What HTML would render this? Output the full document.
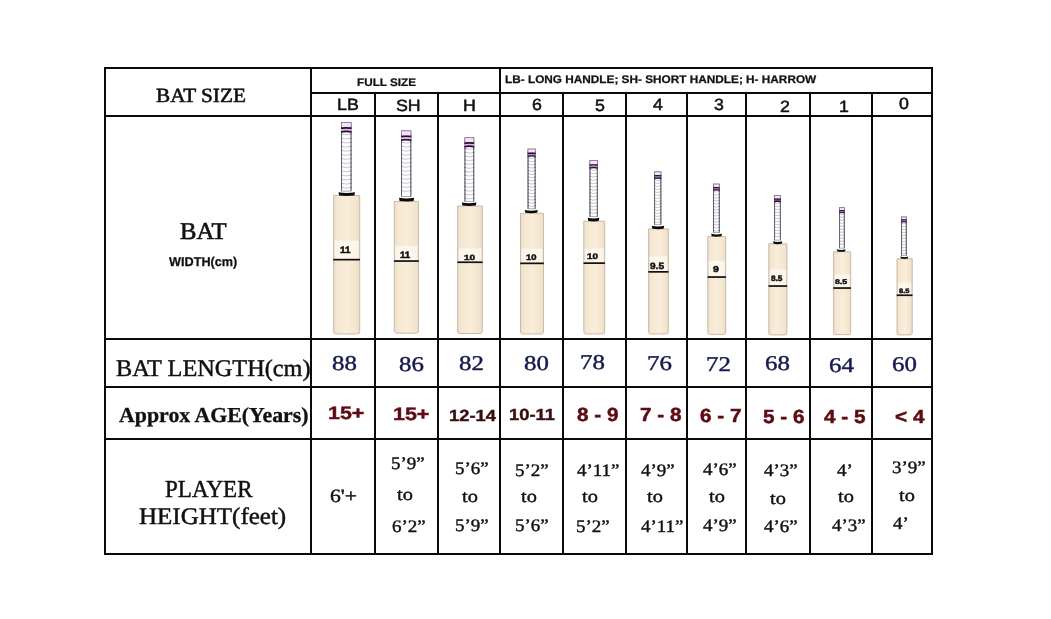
<!DOCTYPE html>
<html><head><meta charset="utf-8"><title>Cricket Bat Size Chart</title>
<style>
html,body{margin:0;padding:0;background:#fff;}
body{width:1051px;height:619px;position:relative;overflow:hidden;}
.t{position:absolute;white-space:nowrap;line-height:1;transform-origin:0 0;margin:0;text-rendering:geometricPrecision;}
.hl,.vl{position:absolute;background:#0a0a0a;}
svg{position:absolute;left:0;top:0;}
</style></head><body>

<svg width="1051" height="619" viewBox="0 0 1051 619">
<defs><linearGradient id="bg" x1="0" x2="1" y1="0" y2="0"><stop offset="0" stop-color="#ebdfca"/><stop offset="0.15" stop-color="#f5e7d0"/><stop offset="0.5" stop-color="#f9eddb"/><stop offset="0.85" stop-color="#f4e5cd"/><stop offset="1" stop-color="#ebdfca"/></linearGradient></defs>
<path d="M333.60,195.50 H359.70 V331.50 Q359.70,334.00 357.20,334.00 H336.10 Q333.60,334.00 333.60,331.50 Z" fill="url(#bg)" stroke="#c3b6a3" stroke-width="0.9"/>
<rect x="334.60" y="240.60" width="24.10" height="18.20" fill="#fffcf5" opacity="0.7"/>
<rect x="333.30" y="258.80" width="26.70" height="1.7" fill="#111"/>
<rect x="341.35" y="122.35" width="9.80" height="68.75" fill="#fdfcfe" stroke="#8e8a96" stroke-width="0.7"/>
<line x1="341.50" y1="126.00" x2="341.50" y2="191.10" stroke="#5a5862" stroke-width="0.9"/>
<line x1="351.00" y1="126.00" x2="351.00" y2="191.10" stroke="#5a5862" stroke-width="0.9"/>
<path d="M341.00,134.10 Q346.25,135.50 351.50,134.10" fill="none" stroke="#b4b1bb" stroke-width="0.7"/>
<rect x="341.00" y="133.60" width="1.2" height="1.0" fill="#55535d"/>
<rect x="350.30" y="133.60" width="1.2" height="1.0" fill="#55535d"/>
<path d="M341.00,138.20 Q346.25,139.60 351.50,138.20" fill="none" stroke="#b4b1bb" stroke-width="0.7"/>
<rect x="341.00" y="137.70" width="1.2" height="1.0" fill="#55535d"/>
<rect x="350.30" y="137.70" width="1.2" height="1.0" fill="#55535d"/>
<path d="M341.00,142.30 Q346.25,143.70 351.50,142.30" fill="none" stroke="#b4b1bb" stroke-width="0.7"/>
<rect x="341.00" y="141.80" width="1.2" height="1.0" fill="#55535d"/>
<rect x="350.30" y="141.80" width="1.2" height="1.0" fill="#55535d"/>
<path d="M341.00,146.40 Q346.25,147.80 351.50,146.40" fill="none" stroke="#b4b1bb" stroke-width="0.7"/>
<rect x="341.00" y="145.90" width="1.2" height="1.0" fill="#55535d"/>
<rect x="350.30" y="145.90" width="1.2" height="1.0" fill="#55535d"/>
<path d="M341.00,150.50 Q346.25,151.90 351.50,150.50" fill="none" stroke="#b4b1bb" stroke-width="0.7"/>
<rect x="341.00" y="150.00" width="1.2" height="1.0" fill="#55535d"/>
<rect x="350.30" y="150.00" width="1.2" height="1.0" fill="#55535d"/>
<path d="M341.00,154.60 Q346.25,156.00 351.50,154.60" fill="none" stroke="#b4b1bb" stroke-width="0.7"/>
<rect x="341.00" y="154.10" width="1.2" height="1.0" fill="#55535d"/>
<rect x="350.30" y="154.10" width="1.2" height="1.0" fill="#55535d"/>
<path d="M341.00,158.70 Q346.25,160.10 351.50,158.70" fill="none" stroke="#b4b1bb" stroke-width="0.7"/>
<rect x="341.00" y="158.20" width="1.2" height="1.0" fill="#55535d"/>
<rect x="350.30" y="158.20" width="1.2" height="1.0" fill="#55535d"/>
<path d="M341.00,162.80 Q346.25,164.20 351.50,162.80" fill="none" stroke="#b4b1bb" stroke-width="0.7"/>
<rect x="341.00" y="162.30" width="1.2" height="1.0" fill="#55535d"/>
<rect x="350.30" y="162.30" width="1.2" height="1.0" fill="#55535d"/>
<path d="M341.00,166.90 Q346.25,168.30 351.50,166.90" fill="none" stroke="#b4b1bb" stroke-width="0.7"/>
<rect x="341.00" y="166.40" width="1.2" height="1.0" fill="#55535d"/>
<rect x="350.30" y="166.40" width="1.2" height="1.0" fill="#55535d"/>
<path d="M341.00,171.00 Q346.25,172.40 351.50,171.00" fill="none" stroke="#b4b1bb" stroke-width="0.7"/>
<rect x="341.00" y="170.50" width="1.2" height="1.0" fill="#55535d"/>
<rect x="350.30" y="170.50" width="1.2" height="1.0" fill="#55535d"/>
<path d="M341.00,175.10 Q346.25,176.50 351.50,175.10" fill="none" stroke="#b4b1bb" stroke-width="0.7"/>
<rect x="341.00" y="174.60" width="1.2" height="1.0" fill="#55535d"/>
<rect x="350.30" y="174.60" width="1.2" height="1.0" fill="#55535d"/>
<path d="M341.00,179.20 Q346.25,180.60 351.50,179.20" fill="none" stroke="#b4b1bb" stroke-width="0.7"/>
<rect x="341.00" y="178.70" width="1.2" height="1.0" fill="#55535d"/>
<rect x="350.30" y="178.70" width="1.2" height="1.0" fill="#55535d"/>
<path d="M341.00,183.30 Q346.25,184.70 351.50,183.30" fill="none" stroke="#b4b1bb" stroke-width="0.7"/>
<rect x="341.00" y="182.80" width="1.2" height="1.0" fill="#55535d"/>
<rect x="350.30" y="182.80" width="1.2" height="1.0" fill="#55535d"/>
<path d="M341.00,187.40 Q346.25,188.80 351.50,187.40" fill="none" stroke="#b4b1bb" stroke-width="0.7"/>
<rect x="341.00" y="186.90" width="1.2" height="1.0" fill="#55535d"/>
<rect x="350.30" y="186.90" width="1.2" height="1.0" fill="#55535d"/>
<rect x="341.40" y="122.40" width="9.70" height="4.80" fill="#f1e4f4"/>
<rect x="341.35" y="122.35" width="9.80" height="5.25" fill="none" stroke="#7a6a82" stroke-width="0.7"/>
<path d="M341.00,127.40 Q346.25,126.60 351.50,127.40 V129.30 Q346.25,128.30 341.00,129.30 Z" fill="#2c0a34"/>
<rect x="341.00" y="129.10" width="10.50" height="2.00" fill="#d9b8e3"/>
<path d="M341.00,131.00 Q346.25,130.20 351.50,131.00 V132.80 Q346.25,131.80 341.00,132.80 Z" fill="#2c0a34"/>
<path d="M338.50,192.20 Q346.75,193.70 355.00,192.20 L354.40,195.50 Q346.75,196.40 339.10,195.50 Z" fill="#0a0a0a"/>
<path d="M394.30,201.50 H418.50 V330.74 Q418.50,333.20 416.04,333.20 H396.76 Q394.30,333.20 394.30,330.74 Z" fill="url(#bg)" stroke="#c3b6a3" stroke-width="0.9"/>
<rect x="395.30" y="245.70" width="22.20" height="14.50" fill="#fffcf5" opacity="0.7"/>
<rect x="394.00" y="260.20" width="24.80" height="1.7" fill="#111"/>
<rect x="401.35" y="130.85" width="9.60" height="65.75" fill="#fdfcfe" stroke="#8e8a96" stroke-width="0.7"/>
<line x1="401.50" y1="134.42" x2="401.50" y2="196.60" stroke="#5a5862" stroke-width="0.9"/>
<line x1="410.80" y1="134.42" x2="410.80" y2="196.60" stroke="#5a5862" stroke-width="0.9"/>
<path d="M401.00,142.36 Q406.15,143.76 411.30,142.36" fill="none" stroke="#b4b1bb" stroke-width="0.7"/>
<rect x="401.00" y="141.86" width="1.2" height="1.0" fill="#55535d"/>
<rect x="410.10" y="141.86" width="1.2" height="1.0" fill="#55535d"/>
<path d="M401.00,146.39 Q406.15,147.79 411.30,146.39" fill="none" stroke="#b4b1bb" stroke-width="0.7"/>
<rect x="401.00" y="145.89" width="1.2" height="1.0" fill="#55535d"/>
<rect x="410.10" y="145.89" width="1.2" height="1.0" fill="#55535d"/>
<path d="M401.00,150.42 Q406.15,151.82 411.30,150.42" fill="none" stroke="#b4b1bb" stroke-width="0.7"/>
<rect x="401.00" y="149.92" width="1.2" height="1.0" fill="#55535d"/>
<rect x="410.10" y="149.92" width="1.2" height="1.0" fill="#55535d"/>
<path d="M401.00,154.44 Q406.15,155.84 411.30,154.44" fill="none" stroke="#b4b1bb" stroke-width="0.7"/>
<rect x="401.00" y="153.94" width="1.2" height="1.0" fill="#55535d"/>
<rect x="410.10" y="153.94" width="1.2" height="1.0" fill="#55535d"/>
<path d="M401.00,158.47 Q406.15,159.87 411.30,158.47" fill="none" stroke="#b4b1bb" stroke-width="0.7"/>
<rect x="401.00" y="157.97" width="1.2" height="1.0" fill="#55535d"/>
<rect x="410.10" y="157.97" width="1.2" height="1.0" fill="#55535d"/>
<path d="M401.00,162.50 Q406.15,163.90 411.30,162.50" fill="none" stroke="#b4b1bb" stroke-width="0.7"/>
<rect x="401.00" y="162.00" width="1.2" height="1.0" fill="#55535d"/>
<rect x="410.10" y="162.00" width="1.2" height="1.0" fill="#55535d"/>
<path d="M401.00,166.53 Q406.15,167.93 411.30,166.53" fill="none" stroke="#b4b1bb" stroke-width="0.7"/>
<rect x="401.00" y="166.03" width="1.2" height="1.0" fill="#55535d"/>
<rect x="410.10" y="166.03" width="1.2" height="1.0" fill="#55535d"/>
<path d="M401.00,170.56 Q406.15,171.96 411.30,170.56" fill="none" stroke="#b4b1bb" stroke-width="0.7"/>
<rect x="401.00" y="170.06" width="1.2" height="1.0" fill="#55535d"/>
<rect x="410.10" y="170.06" width="1.2" height="1.0" fill="#55535d"/>
<path d="M401.00,174.58 Q406.15,175.98 411.30,174.58" fill="none" stroke="#b4b1bb" stroke-width="0.7"/>
<rect x="401.00" y="174.08" width="1.2" height="1.0" fill="#55535d"/>
<rect x="410.10" y="174.08" width="1.2" height="1.0" fill="#55535d"/>
<path d="M401.00,178.61 Q406.15,180.01 411.30,178.61" fill="none" stroke="#b4b1bb" stroke-width="0.7"/>
<rect x="401.00" y="178.11" width="1.2" height="1.0" fill="#55535d"/>
<rect x="410.10" y="178.11" width="1.2" height="1.0" fill="#55535d"/>
<path d="M401.00,182.64 Q406.15,184.04 411.30,182.64" fill="none" stroke="#b4b1bb" stroke-width="0.7"/>
<rect x="401.00" y="182.14" width="1.2" height="1.0" fill="#55535d"/>
<rect x="410.10" y="182.14" width="1.2" height="1.0" fill="#55535d"/>
<path d="M401.00,186.67 Q406.15,188.07 411.30,186.67" fill="none" stroke="#b4b1bb" stroke-width="0.7"/>
<rect x="401.00" y="186.17" width="1.2" height="1.0" fill="#55535d"/>
<rect x="410.10" y="186.17" width="1.2" height="1.0" fill="#55535d"/>
<path d="M401.00,190.69 Q406.15,192.09 411.30,190.69" fill="none" stroke="#b4b1bb" stroke-width="0.7"/>
<rect x="401.00" y="190.19" width="1.2" height="1.0" fill="#55535d"/>
<rect x="410.10" y="190.19" width="1.2" height="1.0" fill="#55535d"/>
<rect x="401.40" y="130.90" width="9.50" height="4.70" fill="#f1e4f4"/>
<rect x="401.35" y="130.85" width="9.60" height="5.14" fill="none" stroke="#7a6a82" stroke-width="0.7"/>
<path d="M401.00,135.80 Q406.15,135.01 411.30,135.80 V137.66 Q406.15,136.68 401.00,137.66 Z" fill="#2c0a34"/>
<rect x="401.00" y="137.46" width="10.30" height="1.96" fill="#d9b8e3"/>
<path d="M401.00,139.33 Q406.15,138.54 411.30,139.33 V141.10 Q406.15,140.11 401.00,141.10 Z" fill="#2c0a34"/>
<path d="M399.00,197.70 Q406.60,199.20 414.20,197.70 L413.60,201.00 Q406.60,201.90 399.60,201.00 Z" fill="#0a0a0a"/>
<path d="M457.70,206.00 H482.30 V331.15 Q482.30,333.50 479.95,333.50 H460.05 Q457.70,333.50 457.70,331.15 Z" fill="url(#bg)" stroke="#c3b6a3" stroke-width="0.9"/>
<rect x="458.70" y="248.50" width="22.60" height="12.90" fill="#fffcf5" opacity="0.7"/>
<rect x="457.40" y="261.40" width="25.20" height="1.7" fill="#111"/>
<rect x="464.85" y="137.75" width="9.00" height="63.75" fill="#fdfcfe" stroke="#8e8a96" stroke-width="0.7"/>
<line x1="465.00" y1="141.10" x2="465.00" y2="201.50" stroke="#5a5862" stroke-width="0.9"/>
<line x1="473.70" y1="141.10" x2="473.70" y2="201.50" stroke="#5a5862" stroke-width="0.9"/>
<path d="M464.50,148.55 Q469.35,149.95 474.20,148.55" fill="none" stroke="#b4b1bb" stroke-width="0.7"/>
<rect x="464.50" y="148.05" width="1.2" height="1.0" fill="#55535d"/>
<rect x="473.00" y="148.05" width="1.2" height="1.0" fill="#55535d"/>
<path d="M464.50,152.36 Q469.35,153.76 474.20,152.36" fill="none" stroke="#b4b1bb" stroke-width="0.7"/>
<rect x="464.50" y="151.86" width="1.2" height="1.0" fill="#55535d"/>
<rect x="473.00" y="151.86" width="1.2" height="1.0" fill="#55535d"/>
<path d="M464.50,156.17 Q469.35,157.57 474.20,156.17" fill="none" stroke="#b4b1bb" stroke-width="0.7"/>
<rect x="464.50" y="155.67" width="1.2" height="1.0" fill="#55535d"/>
<rect x="473.00" y="155.67" width="1.2" height="1.0" fill="#55535d"/>
<path d="M464.50,159.98 Q469.35,161.38 474.20,159.98" fill="none" stroke="#b4b1bb" stroke-width="0.7"/>
<rect x="464.50" y="159.48" width="1.2" height="1.0" fill="#55535d"/>
<rect x="473.00" y="159.48" width="1.2" height="1.0" fill="#55535d"/>
<path d="M464.50,163.79 Q469.35,165.19 474.20,163.79" fill="none" stroke="#b4b1bb" stroke-width="0.7"/>
<rect x="464.50" y="163.29" width="1.2" height="1.0" fill="#55535d"/>
<rect x="473.00" y="163.29" width="1.2" height="1.0" fill="#55535d"/>
<path d="M464.50,167.60 Q469.35,169.00 474.20,167.60" fill="none" stroke="#b4b1bb" stroke-width="0.7"/>
<rect x="464.50" y="167.10" width="1.2" height="1.0" fill="#55535d"/>
<rect x="473.00" y="167.10" width="1.2" height="1.0" fill="#55535d"/>
<path d="M464.50,171.41 Q469.35,172.81 474.20,171.41" fill="none" stroke="#b4b1bb" stroke-width="0.7"/>
<rect x="464.50" y="170.91" width="1.2" height="1.0" fill="#55535d"/>
<rect x="473.00" y="170.91" width="1.2" height="1.0" fill="#55535d"/>
<path d="M464.50,175.22 Q469.35,176.62 474.20,175.22" fill="none" stroke="#b4b1bb" stroke-width="0.7"/>
<rect x="464.50" y="174.72" width="1.2" height="1.0" fill="#55535d"/>
<rect x="473.00" y="174.72" width="1.2" height="1.0" fill="#55535d"/>
<path d="M464.50,179.03 Q469.35,180.43 474.20,179.03" fill="none" stroke="#b4b1bb" stroke-width="0.7"/>
<rect x="464.50" y="178.53" width="1.2" height="1.0" fill="#55535d"/>
<rect x="473.00" y="178.53" width="1.2" height="1.0" fill="#55535d"/>
<path d="M464.50,182.84 Q469.35,184.24 474.20,182.84" fill="none" stroke="#b4b1bb" stroke-width="0.7"/>
<rect x="464.50" y="182.34" width="1.2" height="1.0" fill="#55535d"/>
<rect x="473.00" y="182.34" width="1.2" height="1.0" fill="#55535d"/>
<path d="M464.50,186.65 Q469.35,188.05 474.20,186.65" fill="none" stroke="#b4b1bb" stroke-width="0.7"/>
<rect x="464.50" y="186.15" width="1.2" height="1.0" fill="#55535d"/>
<rect x="473.00" y="186.15" width="1.2" height="1.0" fill="#55535d"/>
<path d="M464.50,190.46 Q469.35,191.86 474.20,190.46" fill="none" stroke="#b4b1bb" stroke-width="0.7"/>
<rect x="464.50" y="189.96" width="1.2" height="1.0" fill="#55535d"/>
<rect x="473.00" y="189.96" width="1.2" height="1.0" fill="#55535d"/>
<path d="M464.50,194.27 Q469.35,195.67 474.20,194.27" fill="none" stroke="#b4b1bb" stroke-width="0.7"/>
<rect x="464.50" y="193.77" width="1.2" height="1.0" fill="#55535d"/>
<rect x="473.00" y="193.77" width="1.2" height="1.0" fill="#55535d"/>
<path d="M464.50,198.08 Q469.35,199.48 474.20,198.08" fill="none" stroke="#b4b1bb" stroke-width="0.7"/>
<rect x="464.50" y="197.58" width="1.2" height="1.0" fill="#55535d"/>
<rect x="473.00" y="197.58" width="1.2" height="1.0" fill="#55535d"/>
<rect x="464.90" y="137.80" width="8.90" height="4.40" fill="#f1e4f4"/>
<rect x="464.85" y="137.75" width="9.00" height="4.82" fill="none" stroke="#7a6a82" stroke-width="0.7"/>
<path d="M464.50,142.39 Q469.35,141.65 474.20,142.39 V144.16 Q469.35,143.22 464.50,144.16 Z" fill="#2c0a34"/>
<rect x="464.50" y="143.96" width="9.70" height="1.85" fill="#d9b8e3"/>
<path d="M464.50,145.71 Q469.35,144.98 474.20,145.71 V147.39 Q469.35,146.45 464.50,147.39 Z" fill="#2c0a34"/>
<path d="M461.80,202.60 Q469.10,204.10 476.40,202.60 L475.80,205.50 Q469.10,206.40 462.40,205.50 Z" fill="#0a0a0a"/>
<path d="M520.50,213.30 H543.50 V331.98 Q543.50,334.00 541.48,334.00 H522.52 Q520.50,334.00 520.50,331.98 Z" fill="url(#bg)" stroke="#c3b6a3" stroke-width="0.9"/>
<rect x="521.50" y="248.60" width="21.00" height="13.90" fill="#fffcf5" opacity="0.7"/>
<rect x="520.20" y="262.50" width="23.60" height="1.7" fill="#111"/>
<rect x="527.95" y="149.05" width="7.30" height="59.75" fill="#fdfcfe" stroke="#8e8a96" stroke-width="0.7"/>
<line x1="528.10" y1="151.75" x2="528.10" y2="208.80" stroke="#5a5862" stroke-width="0.9"/>
<line x1="535.10" y1="151.75" x2="535.10" y2="208.80" stroke="#5a5862" stroke-width="0.9"/>
<path d="M527.60,157.82 Q531.60,159.22 535.60,157.82" fill="none" stroke="#b4b1bb" stroke-width="0.7"/>
<rect x="527.60" y="157.32" width="1.2" height="1.0" fill="#55535d"/>
<rect x="534.40" y="157.32" width="1.2" height="1.0" fill="#55535d"/>
<path d="M527.60,161.02 Q531.60,162.42 535.60,161.02" fill="none" stroke="#b4b1bb" stroke-width="0.7"/>
<rect x="527.60" y="160.52" width="1.2" height="1.0" fill="#55535d"/>
<rect x="534.40" y="160.52" width="1.2" height="1.0" fill="#55535d"/>
<path d="M527.60,164.21 Q531.60,165.61 535.60,164.21" fill="none" stroke="#b4b1bb" stroke-width="0.7"/>
<rect x="527.60" y="163.71" width="1.2" height="1.0" fill="#55535d"/>
<rect x="534.40" y="163.71" width="1.2" height="1.0" fill="#55535d"/>
<path d="M527.60,167.41 Q531.60,168.81 535.60,167.41" fill="none" stroke="#b4b1bb" stroke-width="0.7"/>
<rect x="527.60" y="166.91" width="1.2" height="1.0" fill="#55535d"/>
<rect x="534.40" y="166.91" width="1.2" height="1.0" fill="#55535d"/>
<path d="M527.60,170.60 Q531.60,172.00 535.60,170.60" fill="none" stroke="#b4b1bb" stroke-width="0.7"/>
<rect x="527.60" y="170.10" width="1.2" height="1.0" fill="#55535d"/>
<rect x="534.40" y="170.10" width="1.2" height="1.0" fill="#55535d"/>
<path d="M527.60,173.80 Q531.60,175.20 535.60,173.80" fill="none" stroke="#b4b1bb" stroke-width="0.7"/>
<rect x="527.60" y="173.30" width="1.2" height="1.0" fill="#55535d"/>
<rect x="534.40" y="173.30" width="1.2" height="1.0" fill="#55535d"/>
<path d="M527.60,177.00 Q531.60,178.40 535.60,177.00" fill="none" stroke="#b4b1bb" stroke-width="0.7"/>
<rect x="527.60" y="176.50" width="1.2" height="1.0" fill="#55535d"/>
<rect x="534.40" y="176.50" width="1.2" height="1.0" fill="#55535d"/>
<path d="M527.60,180.19 Q531.60,181.59 535.60,180.19" fill="none" stroke="#b4b1bb" stroke-width="0.7"/>
<rect x="527.60" y="179.69" width="1.2" height="1.0" fill="#55535d"/>
<rect x="534.40" y="179.69" width="1.2" height="1.0" fill="#55535d"/>
<path d="M527.60,183.39 Q531.60,184.79 535.60,183.39" fill="none" stroke="#b4b1bb" stroke-width="0.7"/>
<rect x="527.60" y="182.89" width="1.2" height="1.0" fill="#55535d"/>
<rect x="534.40" y="182.89" width="1.2" height="1.0" fill="#55535d"/>
<path d="M527.60,186.58 Q531.60,187.98 535.60,186.58" fill="none" stroke="#b4b1bb" stroke-width="0.7"/>
<rect x="527.60" y="186.08" width="1.2" height="1.0" fill="#55535d"/>
<rect x="534.40" y="186.08" width="1.2" height="1.0" fill="#55535d"/>
<path d="M527.60,189.78 Q531.60,191.18 535.60,189.78" fill="none" stroke="#b4b1bb" stroke-width="0.7"/>
<rect x="527.60" y="189.28" width="1.2" height="1.0" fill="#55535d"/>
<rect x="534.40" y="189.28" width="1.2" height="1.0" fill="#55535d"/>
<path d="M527.60,192.97 Q531.60,194.37 535.60,192.97" fill="none" stroke="#b4b1bb" stroke-width="0.7"/>
<rect x="527.60" y="192.47" width="1.2" height="1.0" fill="#55535d"/>
<rect x="534.40" y="192.47" width="1.2" height="1.0" fill="#55535d"/>
<path d="M527.60,196.17 Q531.60,197.57 535.60,196.17" fill="none" stroke="#b4b1bb" stroke-width="0.7"/>
<rect x="527.60" y="195.67" width="1.2" height="1.0" fill="#55535d"/>
<rect x="534.40" y="195.67" width="1.2" height="1.0" fill="#55535d"/>
<path d="M527.60,199.36 Q531.60,200.76 535.60,199.36" fill="none" stroke="#b4b1bb" stroke-width="0.7"/>
<rect x="527.60" y="198.86" width="1.2" height="1.0" fill="#55535d"/>
<rect x="534.40" y="198.86" width="1.2" height="1.0" fill="#55535d"/>
<path d="M527.60,202.56 Q531.60,203.96 535.60,202.56" fill="none" stroke="#b4b1bb" stroke-width="0.7"/>
<rect x="527.60" y="202.06" width="1.2" height="1.0" fill="#55535d"/>
<rect x="534.40" y="202.06" width="1.2" height="1.0" fill="#55535d"/>
<path d="M527.60,205.75 Q531.60,207.15 535.60,205.75" fill="none" stroke="#b4b1bb" stroke-width="0.7"/>
<rect x="527.60" y="205.25" width="1.2" height="1.0" fill="#55535d"/>
<rect x="534.40" y="205.25" width="1.2" height="1.0" fill="#55535d"/>
<rect x="528.00" y="149.10" width="7.20" height="3.56" fill="#f1e4f4"/>
<rect x="527.95" y="149.05" width="7.30" height="3.92" fill="none" stroke="#7a6a82" stroke-width="0.7"/>
<path d="M527.60,152.81 Q531.60,152.20 535.60,152.81 V154.31 Q531.60,153.50 527.60,154.31 Z" fill="#2c0a34"/>
<rect x="527.60" y="154.11" width="8.00" height="1.52" fill="#a886b4"/>
<path d="M527.60,155.56 Q531.60,154.95 535.60,155.56 V156.98 Q531.60,156.17 527.60,156.98 Z" fill="#2c0a34"/>
<path d="M524.70,209.90 Q531.25,211.40 537.80,209.90 L537.20,212.80 Q531.25,213.70 525.30,212.80 Z" fill="#0a0a0a"/>
<path d="M583.80,221.20 H604.70 V331.92 Q604.70,334.00 602.62,334.00 H585.88 Q583.80,334.00 583.80,331.92 Z" fill="url(#bg)" stroke="#c3b6a3" stroke-width="0.9"/>
<rect x="584.80" y="248.50" width="18.90" height="13.80" fill="#fffcf5" opacity="0.7"/>
<rect x="583.50" y="262.30" width="21.50" height="1.7" fill="#111"/>
<rect x="589.85" y="160.55" width="7.60" height="56.15" fill="#fdfcfe" stroke="#8e8a96" stroke-width="0.7"/>
<line x1="590.00" y1="163.36" x2="590.00" y2="216.70" stroke="#5a5862" stroke-width="0.9"/>
<line x1="597.30" y1="163.36" x2="597.30" y2="216.70" stroke="#5a5862" stroke-width="0.9"/>
<path d="M589.50,169.68 Q593.65,171.08 597.80,169.68" fill="none" stroke="#b4b1bb" stroke-width="0.7"/>
<rect x="589.50" y="169.18" width="1.2" height="1.0" fill="#55535d"/>
<rect x="596.60" y="169.18" width="1.2" height="1.0" fill="#55535d"/>
<path d="M589.50,172.98 Q593.65,174.38 597.80,172.98" fill="none" stroke="#b4b1bb" stroke-width="0.7"/>
<rect x="589.50" y="172.48" width="1.2" height="1.0" fill="#55535d"/>
<rect x="596.60" y="172.48" width="1.2" height="1.0" fill="#55535d"/>
<path d="M589.50,176.29 Q593.65,177.69 597.80,176.29" fill="none" stroke="#b4b1bb" stroke-width="0.7"/>
<rect x="589.50" y="175.79" width="1.2" height="1.0" fill="#55535d"/>
<rect x="596.60" y="175.79" width="1.2" height="1.0" fill="#55535d"/>
<path d="M589.50,179.59 Q593.65,180.99 597.80,179.59" fill="none" stroke="#b4b1bb" stroke-width="0.7"/>
<rect x="589.50" y="179.09" width="1.2" height="1.0" fill="#55535d"/>
<rect x="596.60" y="179.09" width="1.2" height="1.0" fill="#55535d"/>
<path d="M589.50,182.90 Q593.65,184.30 597.80,182.90" fill="none" stroke="#b4b1bb" stroke-width="0.7"/>
<rect x="589.50" y="182.40" width="1.2" height="1.0" fill="#55535d"/>
<rect x="596.60" y="182.40" width="1.2" height="1.0" fill="#55535d"/>
<path d="M589.50,186.20 Q593.65,187.60 597.80,186.20" fill="none" stroke="#b4b1bb" stroke-width="0.7"/>
<rect x="589.50" y="185.70" width="1.2" height="1.0" fill="#55535d"/>
<rect x="596.60" y="185.70" width="1.2" height="1.0" fill="#55535d"/>
<path d="M589.50,189.50 Q593.65,190.90 597.80,189.50" fill="none" stroke="#b4b1bb" stroke-width="0.7"/>
<rect x="589.50" y="189.00" width="1.2" height="1.0" fill="#55535d"/>
<rect x="596.60" y="189.00" width="1.2" height="1.0" fill="#55535d"/>
<path d="M589.50,192.81 Q593.65,194.21 597.80,192.81" fill="none" stroke="#b4b1bb" stroke-width="0.7"/>
<rect x="589.50" y="192.31" width="1.2" height="1.0" fill="#55535d"/>
<rect x="596.60" y="192.31" width="1.2" height="1.0" fill="#55535d"/>
<path d="M589.50,196.11 Q593.65,197.51 597.80,196.11" fill="none" stroke="#b4b1bb" stroke-width="0.7"/>
<rect x="589.50" y="195.61" width="1.2" height="1.0" fill="#55535d"/>
<rect x="596.60" y="195.61" width="1.2" height="1.0" fill="#55535d"/>
<path d="M589.50,199.42 Q593.65,200.82 597.80,199.42" fill="none" stroke="#b4b1bb" stroke-width="0.7"/>
<rect x="589.50" y="198.92" width="1.2" height="1.0" fill="#55535d"/>
<rect x="596.60" y="198.92" width="1.2" height="1.0" fill="#55535d"/>
<path d="M589.50,202.72 Q593.65,204.12 597.80,202.72" fill="none" stroke="#b4b1bb" stroke-width="0.7"/>
<rect x="589.50" y="202.22" width="1.2" height="1.0" fill="#55535d"/>
<rect x="596.60" y="202.22" width="1.2" height="1.0" fill="#55535d"/>
<path d="M589.50,206.02 Q593.65,207.42 597.80,206.02" fill="none" stroke="#b4b1bb" stroke-width="0.7"/>
<rect x="589.50" y="205.52" width="1.2" height="1.0" fill="#55535d"/>
<rect x="596.60" y="205.52" width="1.2" height="1.0" fill="#55535d"/>
<path d="M589.50,209.33 Q593.65,210.73 597.80,209.33" fill="none" stroke="#b4b1bb" stroke-width="0.7"/>
<rect x="589.50" y="208.83" width="1.2" height="1.0" fill="#55535d"/>
<rect x="596.60" y="208.83" width="1.2" height="1.0" fill="#55535d"/>
<path d="M589.50,212.63 Q593.65,214.03 597.80,212.63" fill="none" stroke="#b4b1bb" stroke-width="0.7"/>
<rect x="589.50" y="212.13" width="1.2" height="1.0" fill="#55535d"/>
<rect x="596.60" y="212.13" width="1.2" height="1.0" fill="#55535d"/>
<rect x="589.90" y="160.60" width="7.50" height="3.71" fill="#f1e4f4"/>
<rect x="589.85" y="160.55" width="7.60" height="4.08" fill="none" stroke="#7a6a82" stroke-width="0.7"/>
<path d="M589.50,164.47 Q593.65,163.84 597.80,164.47 V166.01 Q593.65,165.18 589.50,166.01 Z" fill="#2c0a34"/>
<rect x="589.50" y="165.81" width="8.30" height="1.58" fill="#a886b4"/>
<path d="M589.50,167.31 Q593.65,166.68 597.80,167.31 V168.78 Q593.65,167.95 589.50,168.78 Z" fill="#2c0a34"/>
<path d="M587.70,217.80 Q593.50,219.30 599.30,217.80 L598.70,221.00 Q593.50,221.90 588.30,221.00 Z" fill="#0a0a0a"/>
<path d="M648.60,228.90 H668.30 V332.11 Q668.30,334.00 666.41,334.00 H650.49 Q648.60,334.00 648.60,332.11 Z" fill="url(#bg)" stroke="#c3b6a3" stroke-width="0.9"/>
<rect x="649.60" y="256.50" width="17.70" height="14.50" fill="#fffcf5" opacity="0.7"/>
<rect x="648.30" y="271.00" width="20.30" height="1.7" fill="#111"/>
<rect x="654.35" y="171.85" width="6.60" height="52.85" fill="#fdfcfe" stroke="#8e8a96" stroke-width="0.7"/>
<line x1="654.50" y1="174.28" x2="654.50" y2="224.70" stroke="#5a5862" stroke-width="0.9"/>
<line x1="660.80" y1="174.28" x2="660.80" y2="224.70" stroke="#5a5862" stroke-width="0.9"/>
<path d="M654.00,179.79 Q657.65,181.19 661.30,179.79" fill="none" stroke="#b4b1bb" stroke-width="0.7"/>
<rect x="654.00" y="179.29" width="1.2" height="1.0" fill="#55535d"/>
<rect x="660.10" y="179.29" width="1.2" height="1.0" fill="#55535d"/>
<path d="M654.00,182.79 Q657.65,184.19 661.30,182.79" fill="none" stroke="#b4b1bb" stroke-width="0.7"/>
<rect x="654.00" y="182.29" width="1.2" height="1.0" fill="#55535d"/>
<rect x="660.10" y="182.29" width="1.2" height="1.0" fill="#55535d"/>
<path d="M654.00,185.79 Q657.65,187.19 661.30,185.79" fill="none" stroke="#b4b1bb" stroke-width="0.7"/>
<rect x="654.00" y="185.29" width="1.2" height="1.0" fill="#55535d"/>
<rect x="660.10" y="185.29" width="1.2" height="1.0" fill="#55535d"/>
<path d="M654.00,188.79 Q657.65,190.19 661.30,188.79" fill="none" stroke="#b4b1bb" stroke-width="0.7"/>
<rect x="654.00" y="188.29" width="1.2" height="1.0" fill="#55535d"/>
<rect x="660.10" y="188.29" width="1.2" height="1.0" fill="#55535d"/>
<path d="M654.00,191.79 Q657.65,193.19 661.30,191.79" fill="none" stroke="#b4b1bb" stroke-width="0.7"/>
<rect x="654.00" y="191.29" width="1.2" height="1.0" fill="#55535d"/>
<rect x="660.10" y="191.29" width="1.2" height="1.0" fill="#55535d"/>
<path d="M654.00,194.79 Q657.65,196.19 661.30,194.79" fill="none" stroke="#b4b1bb" stroke-width="0.7"/>
<rect x="654.00" y="194.29" width="1.2" height="1.0" fill="#55535d"/>
<rect x="660.10" y="194.29" width="1.2" height="1.0" fill="#55535d"/>
<path d="M654.00,197.79 Q657.65,199.19 661.30,197.79" fill="none" stroke="#b4b1bb" stroke-width="0.7"/>
<rect x="654.00" y="197.29" width="1.2" height="1.0" fill="#55535d"/>
<rect x="660.10" y="197.29" width="1.2" height="1.0" fill="#55535d"/>
<path d="M654.00,200.79 Q657.65,202.19 661.30,200.79" fill="none" stroke="#b4b1bb" stroke-width="0.7"/>
<rect x="654.00" y="200.29" width="1.2" height="1.0" fill="#55535d"/>
<rect x="660.10" y="200.29" width="1.2" height="1.0" fill="#55535d"/>
<path d="M654.00,203.79 Q657.65,205.19 661.30,203.79" fill="none" stroke="#b4b1bb" stroke-width="0.7"/>
<rect x="654.00" y="203.29" width="1.2" height="1.0" fill="#55535d"/>
<rect x="660.10" y="203.29" width="1.2" height="1.0" fill="#55535d"/>
<path d="M654.00,206.79 Q657.65,208.19 661.30,206.79" fill="none" stroke="#b4b1bb" stroke-width="0.7"/>
<rect x="654.00" y="206.29" width="1.2" height="1.0" fill="#55535d"/>
<rect x="660.10" y="206.29" width="1.2" height="1.0" fill="#55535d"/>
<path d="M654.00,209.79 Q657.65,211.19 661.30,209.79" fill="none" stroke="#b4b1bb" stroke-width="0.7"/>
<rect x="654.00" y="209.29" width="1.2" height="1.0" fill="#55535d"/>
<rect x="660.10" y="209.29" width="1.2" height="1.0" fill="#55535d"/>
<path d="M654.00,212.79 Q657.65,214.19 661.30,212.79" fill="none" stroke="#b4b1bb" stroke-width="0.7"/>
<rect x="654.00" y="212.29" width="1.2" height="1.0" fill="#55535d"/>
<rect x="660.10" y="212.29" width="1.2" height="1.0" fill="#55535d"/>
<path d="M654.00,215.79 Q657.65,217.19 661.30,215.79" fill="none" stroke="#b4b1bb" stroke-width="0.7"/>
<rect x="654.00" y="215.29" width="1.2" height="1.0" fill="#55535d"/>
<rect x="660.10" y="215.29" width="1.2" height="1.0" fill="#55535d"/>
<path d="M654.00,218.79 Q657.65,220.19 661.30,218.79" fill="none" stroke="#b4b1bb" stroke-width="0.7"/>
<rect x="654.00" y="218.29" width="1.2" height="1.0" fill="#55535d"/>
<rect x="660.10" y="218.29" width="1.2" height="1.0" fill="#55535d"/>
<path d="M654.00,221.79 Q657.65,223.19 661.30,221.79" fill="none" stroke="#b4b1bb" stroke-width="0.7"/>
<rect x="654.00" y="221.29" width="1.2" height="1.0" fill="#55535d"/>
<rect x="660.10" y="221.29" width="1.2" height="1.0" fill="#55535d"/>
<rect x="654.40" y="171.90" width="6.50" height="3.22" fill="#f1e4f4"/>
<rect x="654.35" y="171.85" width="6.60" height="3.54" fill="none" stroke="#7a6a82" stroke-width="0.7"/>
<path d="M654.00,175.25 Q657.65,174.70 661.30,175.25 V176.64 Q657.65,175.88 654.00,176.64 Z" fill="#2c0a34"/>
<rect x="654.00" y="176.44" width="7.30" height="1.39" fill="#7e5a8c"/>
<path d="M654.00,177.76 Q657.65,177.20 661.30,177.76 V179.07 Q657.65,178.31 654.00,179.07 Z" fill="#2c0a34"/>
<path d="M651.80,225.80 Q658.00,227.30 664.20,225.80 L663.60,228.80 Q658.00,229.70 652.40,228.80 Z" fill="#0a0a0a"/>
<path d="M707.80,236.50 H725.70 V332.60 Q725.70,334.40 723.90,334.40 H709.60 Q707.80,334.40 707.80,332.60 Z" fill="url(#bg)" stroke="#c3b6a3" stroke-width="0.9"/>
<rect x="708.80" y="260.80" width="15.90" height="15.40" fill="#fffcf5" opacity="0.7"/>
<rect x="707.50" y="276.20" width="18.50" height="1.7" fill="#111"/>
<rect x="713.35" y="184.05" width="6.10" height="48.55" fill="#fdfcfe" stroke="#8e8a96" stroke-width="0.7"/>
<line x1="713.50" y1="186.29" x2="713.50" y2="232.60" stroke="#5a5862" stroke-width="0.9"/>
<line x1="719.30" y1="186.29" x2="719.30" y2="232.60" stroke="#5a5862" stroke-width="0.9"/>
<path d="M713.00,191.40 Q716.40,192.80 719.80,191.40" fill="none" stroke="#b4b1bb" stroke-width="0.7"/>
<rect x="713.00" y="190.90" width="1.2" height="1.0" fill="#55535d"/>
<rect x="718.60" y="190.90" width="1.2" height="1.0" fill="#55535d"/>
<path d="M713.00,194.40 Q716.40,195.80 719.80,194.40" fill="none" stroke="#b4b1bb" stroke-width="0.7"/>
<rect x="713.00" y="193.90" width="1.2" height="1.0" fill="#55535d"/>
<rect x="718.60" y="193.90" width="1.2" height="1.0" fill="#55535d"/>
<path d="M713.00,197.40 Q716.40,198.80 719.80,197.40" fill="none" stroke="#b4b1bb" stroke-width="0.7"/>
<rect x="713.00" y="196.90" width="1.2" height="1.0" fill="#55535d"/>
<rect x="718.60" y="196.90" width="1.2" height="1.0" fill="#55535d"/>
<path d="M713.00,200.40 Q716.40,201.80 719.80,200.40" fill="none" stroke="#b4b1bb" stroke-width="0.7"/>
<rect x="713.00" y="199.90" width="1.2" height="1.0" fill="#55535d"/>
<rect x="718.60" y="199.90" width="1.2" height="1.0" fill="#55535d"/>
<path d="M713.00,203.40 Q716.40,204.80 719.80,203.40" fill="none" stroke="#b4b1bb" stroke-width="0.7"/>
<rect x="713.00" y="202.90" width="1.2" height="1.0" fill="#55535d"/>
<rect x="718.60" y="202.90" width="1.2" height="1.0" fill="#55535d"/>
<path d="M713.00,206.40 Q716.40,207.80 719.80,206.40" fill="none" stroke="#b4b1bb" stroke-width="0.7"/>
<rect x="713.00" y="205.90" width="1.2" height="1.0" fill="#55535d"/>
<rect x="718.60" y="205.90" width="1.2" height="1.0" fill="#55535d"/>
<path d="M713.00,209.40 Q716.40,210.80 719.80,209.40" fill="none" stroke="#b4b1bb" stroke-width="0.7"/>
<rect x="713.00" y="208.90" width="1.2" height="1.0" fill="#55535d"/>
<rect x="718.60" y="208.90" width="1.2" height="1.0" fill="#55535d"/>
<path d="M713.00,212.40 Q716.40,213.80 719.80,212.40" fill="none" stroke="#b4b1bb" stroke-width="0.7"/>
<rect x="713.00" y="211.90" width="1.2" height="1.0" fill="#55535d"/>
<rect x="718.60" y="211.90" width="1.2" height="1.0" fill="#55535d"/>
<path d="M713.00,215.40 Q716.40,216.80 719.80,215.40" fill="none" stroke="#b4b1bb" stroke-width="0.7"/>
<rect x="713.00" y="214.90" width="1.2" height="1.0" fill="#55535d"/>
<rect x="718.60" y="214.90" width="1.2" height="1.0" fill="#55535d"/>
<path d="M713.00,218.40 Q716.40,219.80 719.80,218.40" fill="none" stroke="#b4b1bb" stroke-width="0.7"/>
<rect x="713.00" y="217.90" width="1.2" height="1.0" fill="#55535d"/>
<rect x="718.60" y="217.90" width="1.2" height="1.0" fill="#55535d"/>
<path d="M713.00,221.40 Q716.40,222.80 719.80,221.40" fill="none" stroke="#b4b1bb" stroke-width="0.7"/>
<rect x="713.00" y="220.90" width="1.2" height="1.0" fill="#55535d"/>
<rect x="718.60" y="220.90" width="1.2" height="1.0" fill="#55535d"/>
<path d="M713.00,224.40 Q716.40,225.80 719.80,224.40" fill="none" stroke="#b4b1bb" stroke-width="0.7"/>
<rect x="713.00" y="223.90" width="1.2" height="1.0" fill="#55535d"/>
<rect x="718.60" y="223.90" width="1.2" height="1.0" fill="#55535d"/>
<path d="M713.00,227.40 Q716.40,228.80 719.80,227.40" fill="none" stroke="#b4b1bb" stroke-width="0.7"/>
<rect x="713.00" y="226.90" width="1.2" height="1.0" fill="#55535d"/>
<rect x="718.60" y="226.90" width="1.2" height="1.0" fill="#55535d"/>
<path d="M713.00,230.40 Q716.40,231.80 719.80,230.40" fill="none" stroke="#b4b1bb" stroke-width="0.7"/>
<rect x="713.00" y="229.90" width="1.2" height="1.0" fill="#55535d"/>
<rect x="718.60" y="229.90" width="1.2" height="1.0" fill="#55535d"/>
<rect x="713.40" y="184.10" width="6.00" height="2.97" fill="#f1e4f4"/>
<rect x="713.35" y="184.05" width="6.10" height="3.28" fill="none" stroke="#7a6a82" stroke-width="0.7"/>
<path d="M713.00,187.20 Q716.40,186.68 719.80,187.20 V188.50 Q716.40,187.78 713.00,188.50 Z" fill="#2c0a34"/>
<rect x="713.00" y="188.30" width="6.80" height="1.30" fill="#7e5a8c"/>
<path d="M713.00,189.53 Q716.40,189.01 719.80,189.53 V190.76 Q716.40,190.05 713.00,190.76 Z" fill="#2c0a34"/>
<path d="M711.10,233.70 Q716.55,235.20 722.00,233.70 L721.40,236.30 Q716.55,237.20 711.70,236.30 Z" fill="#0a0a0a"/>
<path d="M768.80,243.80 H786.90 V333.09 Q786.90,334.90 785.09,334.90 H770.61 Q768.80,334.90 768.80,333.09 Z" fill="url(#bg)" stroke="#c3b6a3" stroke-width="0.9"/>
<rect x="769.80" y="269.40" width="16.10" height="15.80" fill="#fffcf5" opacity="0.7"/>
<rect x="768.50" y="285.20" width="18.70" height="1.7" fill="#111"/>
<rect x="774.35" y="195.55" width="6.20" height="44.55" fill="#fdfcfe" stroke="#8e8a96" stroke-width="0.7"/>
<line x1="774.50" y1="197.83" x2="774.50" y2="240.10" stroke="#5a5862" stroke-width="0.9"/>
<line x1="780.40" y1="197.83" x2="780.40" y2="240.10" stroke="#5a5862" stroke-width="0.9"/>
<path d="M774.00,203.01 Q777.45,204.41 780.90,203.01" fill="none" stroke="#b4b1bb" stroke-width="0.7"/>
<rect x="774.00" y="202.51" width="1.2" height="1.0" fill="#55535d"/>
<rect x="779.70" y="202.51" width="1.2" height="1.0" fill="#55535d"/>
<path d="M774.00,206.01 Q777.45,207.41 780.90,206.01" fill="none" stroke="#b4b1bb" stroke-width="0.7"/>
<rect x="774.00" y="205.51" width="1.2" height="1.0" fill="#55535d"/>
<rect x="779.70" y="205.51" width="1.2" height="1.0" fill="#55535d"/>
<path d="M774.00,209.01 Q777.45,210.41 780.90,209.01" fill="none" stroke="#b4b1bb" stroke-width="0.7"/>
<rect x="774.00" y="208.51" width="1.2" height="1.0" fill="#55535d"/>
<rect x="779.70" y="208.51" width="1.2" height="1.0" fill="#55535d"/>
<path d="M774.00,212.01 Q777.45,213.41 780.90,212.01" fill="none" stroke="#b4b1bb" stroke-width="0.7"/>
<rect x="774.00" y="211.51" width="1.2" height="1.0" fill="#55535d"/>
<rect x="779.70" y="211.51" width="1.2" height="1.0" fill="#55535d"/>
<path d="M774.00,215.01 Q777.45,216.41 780.90,215.01" fill="none" stroke="#b4b1bb" stroke-width="0.7"/>
<rect x="774.00" y="214.51" width="1.2" height="1.0" fill="#55535d"/>
<rect x="779.70" y="214.51" width="1.2" height="1.0" fill="#55535d"/>
<path d="M774.00,218.01 Q777.45,219.41 780.90,218.01" fill="none" stroke="#b4b1bb" stroke-width="0.7"/>
<rect x="774.00" y="217.51" width="1.2" height="1.0" fill="#55535d"/>
<rect x="779.70" y="217.51" width="1.2" height="1.0" fill="#55535d"/>
<path d="M774.00,221.01 Q777.45,222.41 780.90,221.01" fill="none" stroke="#b4b1bb" stroke-width="0.7"/>
<rect x="774.00" y="220.51" width="1.2" height="1.0" fill="#55535d"/>
<rect x="779.70" y="220.51" width="1.2" height="1.0" fill="#55535d"/>
<path d="M774.00,224.01 Q777.45,225.41 780.90,224.01" fill="none" stroke="#b4b1bb" stroke-width="0.7"/>
<rect x="774.00" y="223.51" width="1.2" height="1.0" fill="#55535d"/>
<rect x="779.70" y="223.51" width="1.2" height="1.0" fill="#55535d"/>
<path d="M774.00,227.01 Q777.45,228.41 780.90,227.01" fill="none" stroke="#b4b1bb" stroke-width="0.7"/>
<rect x="774.00" y="226.51" width="1.2" height="1.0" fill="#55535d"/>
<rect x="779.70" y="226.51" width="1.2" height="1.0" fill="#55535d"/>
<path d="M774.00,230.01 Q777.45,231.41 780.90,230.01" fill="none" stroke="#b4b1bb" stroke-width="0.7"/>
<rect x="774.00" y="229.51" width="1.2" height="1.0" fill="#55535d"/>
<rect x="779.70" y="229.51" width="1.2" height="1.0" fill="#55535d"/>
<path d="M774.00,233.01 Q777.45,234.41 780.90,233.01" fill="none" stroke="#b4b1bb" stroke-width="0.7"/>
<rect x="774.00" y="232.51" width="1.2" height="1.0" fill="#55535d"/>
<rect x="779.70" y="232.51" width="1.2" height="1.0" fill="#55535d"/>
<path d="M774.00,236.01 Q777.45,237.41 780.90,236.01" fill="none" stroke="#b4b1bb" stroke-width="0.7"/>
<rect x="774.00" y="235.51" width="1.2" height="1.0" fill="#55535d"/>
<rect x="779.70" y="235.51" width="1.2" height="1.0" fill="#55535d"/>
<rect x="774.40" y="195.60" width="6.10" height="3.02" fill="#f1e4f4"/>
<rect x="774.35" y="195.55" width="6.20" height="3.33" fill="none" stroke="#7a6a82" stroke-width="0.7"/>
<path d="M774.00,198.75 Q777.45,198.22 780.90,198.75 V200.07 Q777.45,199.34 774.00,200.07 Z" fill="#2c0a34"/>
<rect x="774.00" y="199.87" width="6.90" height="1.31" fill="#7e5a8c"/>
<path d="M774.00,201.11 Q777.45,200.59 780.90,201.11 V202.37 Q777.45,201.64 774.00,202.37 Z" fill="#2c0a34"/>
<path d="M773.00,241.20 Q777.65,242.70 782.30,241.20 L781.70,243.70 Q777.65,244.60 773.60,243.70 Z" fill="#0a0a0a"/>
<path d="M833.60,251.80 H850.70 V333.00 Q850.70,334.60 849.10,334.60 H835.20 Q833.60,334.60 833.60,333.00 Z" fill="url(#bg)" stroke="#c3b6a3" stroke-width="0.9"/>
<rect x="834.60" y="274.10" width="15.10" height="13.10" fill="#fffcf5" opacity="0.7"/>
<rect x="833.30" y="287.20" width="17.70" height="1.7" fill="#111"/>
<rect x="839.35" y="207.65" width="5.10" height="40.45" fill="#fdfcfe" stroke="#8e8a96" stroke-width="0.7"/>
<line x1="839.50" y1="209.51" x2="839.50" y2="248.10" stroke="#5a5862" stroke-width="0.9"/>
<line x1="844.30" y1="209.51" x2="844.30" y2="248.10" stroke="#5a5862" stroke-width="0.9"/>
<path d="M839.00,213.80 Q841.90,215.20 844.80,213.80" fill="none" stroke="#b4b1bb" stroke-width="0.7"/>
<rect x="839.00" y="213.30" width="1.2" height="1.0" fill="#55535d"/>
<rect x="843.60" y="213.30" width="1.2" height="1.0" fill="#55535d"/>
<path d="M839.00,216.80 Q841.90,218.20 844.80,216.80" fill="none" stroke="#b4b1bb" stroke-width="0.7"/>
<rect x="839.00" y="216.30" width="1.2" height="1.0" fill="#55535d"/>
<rect x="843.60" y="216.30" width="1.2" height="1.0" fill="#55535d"/>
<path d="M839.00,219.80 Q841.90,221.20 844.80,219.80" fill="none" stroke="#b4b1bb" stroke-width="0.7"/>
<rect x="839.00" y="219.30" width="1.2" height="1.0" fill="#55535d"/>
<rect x="843.60" y="219.30" width="1.2" height="1.0" fill="#55535d"/>
<path d="M839.00,222.80 Q841.90,224.20 844.80,222.80" fill="none" stroke="#b4b1bb" stroke-width="0.7"/>
<rect x="839.00" y="222.30" width="1.2" height="1.0" fill="#55535d"/>
<rect x="843.60" y="222.30" width="1.2" height="1.0" fill="#55535d"/>
<path d="M839.00,225.80 Q841.90,227.20 844.80,225.80" fill="none" stroke="#b4b1bb" stroke-width="0.7"/>
<rect x="839.00" y="225.30" width="1.2" height="1.0" fill="#55535d"/>
<rect x="843.60" y="225.30" width="1.2" height="1.0" fill="#55535d"/>
<path d="M839.00,228.80 Q841.90,230.20 844.80,228.80" fill="none" stroke="#b4b1bb" stroke-width="0.7"/>
<rect x="839.00" y="228.30" width="1.2" height="1.0" fill="#55535d"/>
<rect x="843.60" y="228.30" width="1.2" height="1.0" fill="#55535d"/>
<path d="M839.00,231.80 Q841.90,233.20 844.80,231.80" fill="none" stroke="#b4b1bb" stroke-width="0.7"/>
<rect x="839.00" y="231.30" width="1.2" height="1.0" fill="#55535d"/>
<rect x="843.60" y="231.30" width="1.2" height="1.0" fill="#55535d"/>
<path d="M839.00,234.80 Q841.90,236.20 844.80,234.80" fill="none" stroke="#b4b1bb" stroke-width="0.7"/>
<rect x="839.00" y="234.30" width="1.2" height="1.0" fill="#55535d"/>
<rect x="843.60" y="234.30" width="1.2" height="1.0" fill="#55535d"/>
<path d="M839.00,237.80 Q841.90,239.20 844.80,237.80" fill="none" stroke="#b4b1bb" stroke-width="0.7"/>
<rect x="839.00" y="237.30" width="1.2" height="1.0" fill="#55535d"/>
<rect x="843.60" y="237.30" width="1.2" height="1.0" fill="#55535d"/>
<path d="M839.00,240.80 Q841.90,242.20 844.80,240.80" fill="none" stroke="#b4b1bb" stroke-width="0.7"/>
<rect x="839.00" y="240.30" width="1.2" height="1.0" fill="#55535d"/>
<rect x="843.60" y="240.30" width="1.2" height="1.0" fill="#55535d"/>
<path d="M839.00,243.80 Q841.90,245.20 844.80,243.80" fill="none" stroke="#b4b1bb" stroke-width="0.7"/>
<rect x="839.00" y="243.30" width="1.2" height="1.0" fill="#55535d"/>
<rect x="843.60" y="243.30" width="1.2" height="1.0" fill="#55535d"/>
<rect x="839.40" y="207.70" width="5.00" height="2.47" fill="#f1e4f4"/>
<rect x="839.35" y="207.65" width="5.10" height="2.74" fill="none" stroke="#7a6a82" stroke-width="0.7"/>
<path d="M839.00,210.28 Q841.90,209.84 844.80,210.28 V211.42 Q841.90,210.78 839.00,211.42 Z" fill="#2c0a34"/>
<rect x="839.00" y="211.22" width="5.80" height="1.10" fill="#7e5a8c"/>
<path d="M839.00,212.27 Q841.90,211.83 844.80,212.27 V213.36 Q841.90,212.71 839.00,213.36 Z" fill="#2c0a34"/>
<path d="M836.80,249.20 Q841.20,250.70 845.60,249.20 L845.00,251.40 Q841.20,252.30 837.40,251.40 Z" fill="#0a0a0a"/>
<path d="M897.00,258.80 H912.20 V333.30 Q912.20,334.90 910.60,334.90 H898.60 Q897.00,334.90 897.00,333.30 Z" fill="url(#bg)" stroke="#c3b6a3" stroke-width="0.9"/>
<rect x="898.00" y="282.60" width="13.20" height="11.80" fill="#fffcf5" opacity="0.7"/>
<rect x="896.70" y="294.40" width="15.80" height="1.7" fill="#111"/>
<rect x="901.35" y="216.95" width="5.10" height="38.55" fill="#fdfcfe" stroke="#8e8a96" stroke-width="0.7"/>
<line x1="901.50" y1="218.81" x2="901.50" y2="255.50" stroke="#5a5862" stroke-width="0.9"/>
<line x1="906.30" y1="218.81" x2="906.30" y2="255.50" stroke="#5a5862" stroke-width="0.9"/>
<path d="M901.00,223.10 Q903.90,224.50 906.80,223.10" fill="none" stroke="#b4b1bb" stroke-width="0.7"/>
<rect x="901.00" y="222.60" width="1.2" height="1.0" fill="#55535d"/>
<rect x="905.60" y="222.60" width="1.2" height="1.0" fill="#55535d"/>
<path d="M901.00,226.10 Q903.90,227.50 906.80,226.10" fill="none" stroke="#b4b1bb" stroke-width="0.7"/>
<rect x="901.00" y="225.60" width="1.2" height="1.0" fill="#55535d"/>
<rect x="905.60" y="225.60" width="1.2" height="1.0" fill="#55535d"/>
<path d="M901.00,229.10 Q903.90,230.50 906.80,229.10" fill="none" stroke="#b4b1bb" stroke-width="0.7"/>
<rect x="901.00" y="228.60" width="1.2" height="1.0" fill="#55535d"/>
<rect x="905.60" y="228.60" width="1.2" height="1.0" fill="#55535d"/>
<path d="M901.00,232.10 Q903.90,233.50 906.80,232.10" fill="none" stroke="#b4b1bb" stroke-width="0.7"/>
<rect x="901.00" y="231.60" width="1.2" height="1.0" fill="#55535d"/>
<rect x="905.60" y="231.60" width="1.2" height="1.0" fill="#55535d"/>
<path d="M901.00,235.10 Q903.90,236.50 906.80,235.10" fill="none" stroke="#b4b1bb" stroke-width="0.7"/>
<rect x="901.00" y="234.60" width="1.2" height="1.0" fill="#55535d"/>
<rect x="905.60" y="234.60" width="1.2" height="1.0" fill="#55535d"/>
<path d="M901.00,238.10 Q903.90,239.50 906.80,238.10" fill="none" stroke="#b4b1bb" stroke-width="0.7"/>
<rect x="901.00" y="237.60" width="1.2" height="1.0" fill="#55535d"/>
<rect x="905.60" y="237.60" width="1.2" height="1.0" fill="#55535d"/>
<path d="M901.00,241.10 Q903.90,242.50 906.80,241.10" fill="none" stroke="#b4b1bb" stroke-width="0.7"/>
<rect x="901.00" y="240.60" width="1.2" height="1.0" fill="#55535d"/>
<rect x="905.60" y="240.60" width="1.2" height="1.0" fill="#55535d"/>
<path d="M901.00,244.10 Q903.90,245.50 906.80,244.10" fill="none" stroke="#b4b1bb" stroke-width="0.7"/>
<rect x="901.00" y="243.60" width="1.2" height="1.0" fill="#55535d"/>
<rect x="905.60" y="243.60" width="1.2" height="1.0" fill="#55535d"/>
<path d="M901.00,247.10 Q903.90,248.50 906.80,247.10" fill="none" stroke="#b4b1bb" stroke-width="0.7"/>
<rect x="901.00" y="246.60" width="1.2" height="1.0" fill="#55535d"/>
<rect x="905.60" y="246.60" width="1.2" height="1.0" fill="#55535d"/>
<path d="M901.00,250.10 Q903.90,251.50 906.80,250.10" fill="none" stroke="#b4b1bb" stroke-width="0.7"/>
<rect x="901.00" y="249.60" width="1.2" height="1.0" fill="#55535d"/>
<rect x="905.60" y="249.60" width="1.2" height="1.0" fill="#55535d"/>
<path d="M901.00,253.10 Q903.90,254.50 906.80,253.10" fill="none" stroke="#b4b1bb" stroke-width="0.7"/>
<rect x="901.00" y="252.60" width="1.2" height="1.0" fill="#55535d"/>
<rect x="905.60" y="252.60" width="1.2" height="1.0" fill="#55535d"/>
<rect x="901.40" y="217.00" width="5.00" height="2.47" fill="#f1e4f4"/>
<rect x="901.35" y="216.95" width="5.10" height="2.74" fill="none" stroke="#7a6a82" stroke-width="0.7"/>
<path d="M901.00,219.58 Q903.90,219.14 906.80,219.58 V220.72 Q903.90,220.08 901.00,220.72 Z" fill="#2c0a34"/>
<rect x="901.00" y="220.52" width="5.80" height="1.10" fill="#7e5a8c"/>
<path d="M901.00,221.57 Q903.90,221.13 906.80,221.57 V222.66 Q903.90,222.01 901.00,222.66 Z" fill="#2c0a34"/>
<path d="M900.30,256.60 Q904.30,258.10 908.30,256.60 L907.70,258.50 Q904.30,259.40 900.90,258.50 Z" fill="#0a0a0a"/>
</svg>
<div class="hl" style="left:104px;top:67px;width:829px;height:2px"></div>
<div class="hl" style="left:310px;top:92px;width:623px;height:2px"></div>
<div class="hl" style="left:104px;top:115px;width:829px;height:2px"></div>
<div class="hl" style="left:104px;top:338px;width:829px;height:2px"></div>
<div class="hl" style="left:104px;top:386px;width:829px;height:2px"></div>
<div class="hl" style="left:104px;top:438px;width:829px;height:2px"></div>
<div class="hl" style="left:104px;top:553px;width:829px;height:2px"></div>
<div class="vl" style="left:104px;top:67px;width:2px;height:488px"></div>
<div class="vl" style="left:310px;top:67px;width:2px;height:488px"></div>
<div class="vl" style="left:374px;top:92px;width:2px;height:463px"></div>
<div class="vl" style="left:437px;top:92px;width:2px;height:463px"></div>
<div class="vl" style="left:499px;top:67px;width:2px;height:488px"></div>
<div class="vl" style="left:562px;top:92px;width:2px;height:463px"></div>
<div class="vl" style="left:625px;top:92px;width:2px;height:463px"></div>
<div class="vl" style="left:686px;top:92px;width:2px;height:463px"></div>
<div class="vl" style="left:745px;top:92px;width:2px;height:463px"></div>
<div class="vl" style="left:809px;top:92px;width:2px;height:463px"></div>
<div class="vl" style="left:871px;top:92px;width:2px;height:463px"></div>
<div class="vl" style="left:931px;top:67px;width:2px;height:488px"></div>
<div class="t" style="left:155.81px;top:86.39px;font-family:'Liberation Serif', serif;font-weight:400;font-size:21.5px;color:#111;transform:scale(0.9877,0.9341);-webkit-text-stroke:0.6px #111;">BAT SIZE</div>
<div class="t" style="left:356.66px;top:77.70px;font-family:'Liberation Sans', sans-serif;font-weight:700;font-size:11px;color:#111;transform:scale(1.0660,0.9951);-webkit-text-stroke:0.25px #111;">FULL SIZE</div>
<div class="t" style="left:505.00px;top:75.27px;font-family:'Liberation Sans', sans-serif;font-weight:700;font-size:11px;color:#111;transform:scale(1.0722,1.0056);-webkit-text-stroke:0.25px #111;">LB- LONG HANDLE; SH- SHORT HANDLE; H- HARROW</div>
<div class="t" style="left:336.88px;top:97.99px;font-family:'Liberation Sans', sans-serif;font-weight:400;font-size:16px;color:#111;transform:scale(1.1108,1.0163);-webkit-text-stroke:0.5px #111;">LB</div>
<div class="t" style="left:395.99px;top:98.51px;font-family:'Liberation Sans', sans-serif;font-weight:400;font-size:16px;color:#111;transform:scale(1.1108,1.0163);-webkit-text-stroke:0.5px #111;">SH</div>
<div class="t" style="left:462.79px;top:98.78px;font-family:'Liberation Sans', sans-serif;font-weight:400;font-size:16px;color:#111;transform:scale(1.1108,1.0163);-webkit-text-stroke:0.5px #111;">H</div>
<div class="t" style="left:532.24px;top:98.07px;font-family:'Liberation Sans', sans-serif;font-weight:400;font-size:16px;color:#111;transform:scale(1.1108,1.0163);-webkit-text-stroke:0.5px #111;">6</div>
<div class="t" style="left:594.50px;top:98.66px;font-family:'Liberation Sans', sans-serif;font-weight:400;font-size:16px;color:#111;transform:scale(1.1108,1.0163);-webkit-text-stroke:0.5px #111;">5</div>
<div class="t" style="left:652.64px;top:98.39px;font-family:'Liberation Sans', sans-serif;font-weight:400;font-size:16px;color:#111;transform:scale(1.1108,1.0163);-webkit-text-stroke:0.5px #111;">4</div>
<div class="t" style="left:714.07px;top:98.47px;font-family:'Liberation Sans', sans-serif;font-weight:400;font-size:16px;color:#111;transform:scale(1.1108,1.0163);-webkit-text-stroke:0.5px #111;">3</div>
<div class="t" style="left:780.26px;top:99.66px;font-family:'Liberation Sans', sans-serif;font-weight:400;font-size:16px;color:#111;transform:scale(1.1108,1.0163);-webkit-text-stroke:0.5px #111;">2</div>
<div class="t" style="left:839.10px;top:99.50px;font-family:'Liberation Sans', sans-serif;font-weight:400;font-size:16px;color:#111;transform:scale(1.1108,1.0163);-webkit-text-stroke:0.5px #111;">1</div>
<div class="t" style="left:899.12px;top:96.70px;font-family:'Liberation Sans', sans-serif;font-weight:400;font-size:16px;color:#111;transform:scale(1.1108,1.0163);-webkit-text-stroke:0.5px #111;">0</div>
<div class="t" style="left:180.04px;top:219.77px;font-family:'Liberation Serif', serif;font-weight:400;font-size:25px;color:#111;transform:scale(0.9869,0.9647);-webkit-text-stroke:0.65px #111;">BAT</div>
<div class="t" style="left:169.24px;top:256.09px;font-family:'Liberation Sans', sans-serif;font-weight:700;font-size:12.5px;color:#111;transform:scale(1.0139,1.0242);-webkit-text-stroke:0.25px #111;">WIDTH(cm)</div>
<div class="t" style="left:116.11px;top:357.13px;font-family:'Liberation Serif', serif;font-weight:400;font-size:24px;color:#111;transform:scale(1.0125,0.9973);-webkit-text-stroke:0.45px #111;">BAT LENGTH(cm)</div>
<div class="t" style="left:118.96px;top:404.60px;font-family:'Liberation Serif', serif;font-weight:700;font-size:20.5px;color:#111;transform:scale(1.0658,1.0401);-webkit-text-stroke:0.3px #111;">Approx AGE(Years)</div>
<div class="t" style="left:164.77px;top:476.59px;font-family:'Liberation Serif', serif;font-weight:400;font-size:23px;color:#111;transform:scale(1.0020,1.0559);-webkit-text-stroke:0.45px #111;">PLAYER</div>
<div class="t" style="left:138.81px;top:504.47px;font-family:'Liberation Serif', serif;font-weight:400;font-size:23px;color:#111;transform:scale(1.0874,1.0380);-webkit-text-stroke:0.45px #111;">HEIGHT(feet)</div>
<div class="t" style="left:331.68px;top:353.39px;font-family:'Liberation Serif', serif;font-weight:400;font-size:22px;color:#151b4e;transform:scale(1.1308,0.9531);-webkit-text-stroke:0.45px #151b4e;">88</div>
<div class="t" style="left:398.63px;top:354.18px;font-family:'Liberation Serif', serif;font-weight:400;font-size:22px;color:#151b4e;transform:scale(1.1308,0.9531);-webkit-text-stroke:0.45px #151b4e;">86</div>
<div class="t" style="left:458.82px;top:353.17px;font-family:'Liberation Serif', serif;font-weight:400;font-size:22px;color:#151b4e;transform:scale(1.1308,0.9531);-webkit-text-stroke:0.45px #151b4e;">82</div>
<div class="t" style="left:524.36px;top:352.65px;font-family:'Liberation Serif', serif;font-weight:400;font-size:22px;color:#151b4e;transform:scale(1.1308,0.9531);-webkit-text-stroke:0.45px #151b4e;">80</div>
<div class="t" style="left:580.38px;top:352.21px;font-family:'Liberation Serif', serif;font-weight:400;font-size:22px;color:#151b4e;transform:scale(1.1308,0.9531);-webkit-text-stroke:0.45px #151b4e;">78</div>
<div class="t" style="left:647.44px;top:353.17px;font-family:'Liberation Serif', serif;font-weight:400;font-size:22px;color:#151b4e;transform:scale(1.1308,0.9531);-webkit-text-stroke:0.45px #151b4e;">76</div>
<div class="t" style="left:706.47px;top:353.74px;font-family:'Liberation Serif', serif;font-weight:400;font-size:22px;color:#151b4e;transform:scale(1.1308,0.9531);-webkit-text-stroke:0.45px #151b4e;">72</div>
<div class="t" style="left:765.38px;top:353.47px;font-family:'Liberation Serif', serif;font-weight:400;font-size:22px;color:#151b4e;transform:scale(1.1308,0.9531);-webkit-text-stroke:0.45px #151b4e;">68</div>
<div class="t" style="left:828.86px;top:354.73px;font-family:'Liberation Serif', serif;font-weight:400;font-size:22px;color:#151b4e;transform:scale(1.1308,0.9531);-webkit-text-stroke:0.45px #151b4e;">64</div>
<div class="t" style="left:891.94px;top:354.19px;font-family:'Liberation Serif', serif;font-weight:400;font-size:22px;color:#151b4e;transform:scale(1.1308,0.9531);-webkit-text-stroke:0.45px #151b4e;">60</div>
<div class="t" style="left:328.14px;top:404.46px;font-family:'Liberation Sans', sans-serif;font-weight:700;font-size:18px;color:#5e0c13;transform:scale(1.1908,0.9985);-webkit-text-stroke:0.45px #5e0c13;">15+</div>
<div class="t" style="left:392.84px;top:405.06px;font-family:'Liberation Sans', sans-serif;font-weight:700;font-size:18px;color:#5e0c13;transform:scale(1.1908,0.9985);-webkit-text-stroke:0.45px #5e0c13;">15+</div>
<div class="t" style="left:449.14px;top:407.91px;font-family:'Liberation Sans', sans-serif;font-weight:700;font-size:18px;color:#3a0f10;transform:scale(1.0209,0.8956);-webkit-text-stroke:0.45px #3a0f10;">12-14</div>
<div class="t" style="left:508.89px;top:407.31px;font-family:'Liberation Sans', sans-serif;font-weight:700;font-size:18px;color:#3a0f10;transform:scale(1.0209,0.8956);-webkit-text-stroke:0.45px #3a0f10;">10-11</div>
<div class="t" style="left:576.74px;top:405.24px;font-family:'Liberation Sans', sans-serif;font-weight:700;font-size:18px;color:#5e0c13;transform:scale(1.1534,1.0568);-webkit-text-stroke:0.45px #5e0c13;">8 - 9</div>
<div class="t" style="left:639.66px;top:405.23px;font-family:'Liberation Sans', sans-serif;font-weight:700;font-size:18px;color:#5e0c13;transform:scale(1.1534,1.0568);-webkit-text-stroke:0.45px #5e0c13;">7 - 8</div>
<div class="t" style="left:699.67px;top:405.52px;font-family:'Liberation Sans', sans-serif;font-weight:700;font-size:18px;color:#5e0c13;transform:scale(1.1534,1.0568);-webkit-text-stroke:0.45px #5e0c13;">6 - 7</div>
<div class="t" style="left:762.59px;top:406.96px;font-family:'Liberation Sans', sans-serif;font-weight:700;font-size:18px;color:#5e0c13;transform:scale(1.1534,1.0568);-webkit-text-stroke:0.45px #5e0c13;">5 - 6</div>
<div class="t" style="left:823.73px;top:406.71px;font-family:'Liberation Sans', sans-serif;font-weight:700;font-size:18px;color:#5e0c13;transform:scale(1.1534,1.0568);-webkit-text-stroke:0.45px #5e0c13;">4 - 5</div>
<div class="t" style="left:895.27px;top:407.29px;font-family:'Liberation Sans', sans-serif;font-weight:700;font-size:18px;color:#5e0c13;transform:scale(1.1534,1.0568);-webkit-text-stroke:0.45px #5e0c13;">< 4</div>
<div class="t" style="left:329.77px;top:486.67px;font-family:'Liberation Serif', serif;font-weight:400;font-size:19px;color:#111;transform:scale(1.1366,0.9851);-webkit-text-stroke:0.45px #111;">6'+</div>
<div class="t" style="left:391.22px;top:454.70px;font-family:'Liberation Serif', serif;font-weight:400;font-size:19px;color:#111;transform:scale(0.9990,0.9251);-webkit-text-stroke:0.45px #111;">5’9”</div>
<div class="t" style="left:396.89px;top:486.04px;font-family:'Liberation Serif', serif;font-weight:400;font-size:19px;color:#111;transform:scale(1.0711,0.9159);-webkit-text-stroke:0.45px #111;">to</div>
<div class="t" style="left:391.89px;top:517.84px;font-family:'Liberation Serif', serif;font-weight:400;font-size:19px;color:#111;transform:scale(0.9990,0.9251);-webkit-text-stroke:0.45px #111;">6’2”</div>
<div class="t" style="left:455.40px;top:460.09px;font-family:'Liberation Serif', serif;font-weight:400;font-size:19px;color:#111;transform:scale(0.9990,0.9251);-webkit-text-stroke:0.45px #111;">5’6”</div>
<div class="t" style="left:462.11px;top:487.94px;font-family:'Liberation Serif', serif;font-weight:400;font-size:19px;color:#111;transform:scale(1.0711,0.9159);-webkit-text-stroke:0.45px #111;">to</div>
<div class="t" style="left:455.41px;top:516.70px;font-family:'Liberation Serif', serif;font-weight:400;font-size:19px;color:#111;transform:scale(0.9990,0.9251);-webkit-text-stroke:0.45px #111;">5’9”</div>
<div class="t" style="left:515.10px;top:462.10px;font-family:'Liberation Serif', serif;font-weight:400;font-size:19px;color:#111;transform:scale(0.9990,0.9251);-webkit-text-stroke:0.45px #111;">5’2”</div>
<div class="t" style="left:521.43px;top:488.34px;font-family:'Liberation Serif', serif;font-weight:400;font-size:19px;color:#111;transform:scale(1.0711,0.9159);-webkit-text-stroke:0.45px #111;">to</div>
<div class="t" style="left:515.10px;top:516.99px;font-family:'Liberation Serif', serif;font-weight:400;font-size:19px;color:#111;transform:scale(0.9990,0.9251);-webkit-text-stroke:0.45px #111;">5’6”</div>
<div class="t" style="left:576.56px;top:462.25px;font-family:'Liberation Serif', serif;font-weight:400;font-size:19px;color:#111;transform:scale(0.9990,0.9251);-webkit-text-stroke:0.45px #111;">4’11”</div>
<div class="t" style="left:582.34px;top:488.34px;font-family:'Liberation Serif', serif;font-weight:400;font-size:19px;color:#111;transform:scale(1.0711,0.9159);-webkit-text-stroke:0.45px #111;">to</div>
<div class="t" style="left:575.90px;top:517.70px;font-family:'Liberation Serif', serif;font-weight:400;font-size:19px;color:#111;transform:scale(0.9990,0.9251);-webkit-text-stroke:0.45px #111;">5’2”</div>
<div class="t" style="left:640.50px;top:461.78px;font-family:'Liberation Serif', serif;font-weight:400;font-size:19px;color:#111;transform:scale(0.9990,0.9251);-webkit-text-stroke:0.45px #111;">4’9”</div>
<div class="t" style="left:646.86px;top:488.34px;font-family:'Liberation Serif', serif;font-weight:400;font-size:19px;color:#111;transform:scale(1.0711,0.9159);-webkit-text-stroke:0.45px #111;">to</div>
<div class="t" style="left:641.36px;top:518.45px;font-family:'Liberation Serif', serif;font-weight:400;font-size:19px;color:#111;transform:scale(0.9990,0.9251);-webkit-text-stroke:0.45px #111;">4’11”</div>
<div class="t" style="left:702.62px;top:461.49px;font-family:'Liberation Serif', serif;font-weight:400;font-size:19px;color:#111;transform:scale(0.9990,0.9251);-webkit-text-stroke:0.45px #111;">4’6”</div>
<div class="t" style="left:708.86px;top:488.34px;font-family:'Liberation Serif', serif;font-weight:400;font-size:19px;color:#111;transform:scale(1.0711,0.9159);-webkit-text-stroke:0.45px #111;">to</div>
<div class="t" style="left:702.62px;top:516.98px;font-family:'Liberation Serif', serif;font-weight:400;font-size:19px;color:#111;transform:scale(0.9990,0.9251);-webkit-text-stroke:0.45px #111;">4’9”</div>
<div class="t" style="left:764.32px;top:462.18px;font-family:'Liberation Serif', serif;font-weight:400;font-size:19px;color:#111;transform:scale(0.9990,0.9251);-webkit-text-stroke:0.45px #111;">4’3”</div>
<div class="t" style="left:770.37px;top:489.74px;font-family:'Liberation Serif', serif;font-weight:400;font-size:19px;color:#111;transform:scale(1.0711,0.9159);-webkit-text-stroke:0.45px #111;">to</div>
<div class="t" style="left:764.30px;top:518.39px;font-family:'Liberation Serif', serif;font-weight:400;font-size:19px;color:#111;transform:scale(0.9990,0.9251);-webkit-text-stroke:0.45px #111;">4’6”</div>
<div class="t" style="left:837.25px;top:461.59px;font-family:'Liberation Serif', serif;font-weight:400;font-size:19px;color:#111;transform:scale(0.9990,0.9251);-webkit-text-stroke:0.45px #111;">4’</div>
<div class="t" style="left:837.53px;top:487.94px;font-family:'Liberation Serif', serif;font-weight:400;font-size:19px;color:#111;transform:scale(1.0711,0.9159);-webkit-text-stroke:0.45px #111;">to</div>
<div class="t" style="left:831.77px;top:516.78px;font-family:'Liberation Serif', serif;font-weight:400;font-size:19px;color:#111;transform:scale(0.9990,0.9251);-webkit-text-stroke:0.45px #111;">4’3”</div>
<div class="t" style="left:891.60px;top:459.33px;font-family:'Liberation Serif', serif;font-weight:400;font-size:19px;color:#111;transform:scale(0.9990,0.9251);-webkit-text-stroke:0.45px #111;">3’9”</div>
<div class="t" style="left:898.75px;top:486.94px;font-family:'Liberation Serif', serif;font-weight:400;font-size:19px;color:#111;transform:scale(1.0711,0.9159);-webkit-text-stroke:0.45px #111;">to</div>
<div class="t" style="left:892.87px;top:515.29px;font-family:'Liberation Serif', serif;font-weight:400;font-size:19px;color:#111;transform:scale(0.9990,0.9251);-webkit-text-stroke:0.45px #111;">4’</div>
<div class="t" style="left:339.90px;top:246.09px;font-family:'Liberation Sans', sans-serif;font-weight:700;font-size:9.5px;color:#111;transform:scale(1.0334,0.9770);-webkit-text-stroke:0.55px #111;">11</div>
<div class="t" style="left:399.92px;top:250.77px;font-family:'Liberation Sans', sans-serif;font-weight:700;font-size:9.5px;color:#111;transform:scale(1.0193,0.9728);-webkit-text-stroke:0.55px #111;">11</div>
<div class="t" style="left:463.55px;top:254.85px;font-family:'Liberation Sans', sans-serif;font-weight:700;font-size:9.5px;color:#111;transform:scale(1.0486,0.7838);-webkit-text-stroke:0.55px #111;">10</div>
<div class="t" style="left:526.09px;top:253.59px;font-family:'Liberation Sans', sans-serif;font-weight:700;font-size:9.5px;color:#111;transform:scale(0.9965,0.8452);-webkit-text-stroke:0.55px #111;">10</div>
<div class="t" style="left:587.31px;top:253.40px;font-family:'Liberation Sans', sans-serif;font-weight:700;font-size:9.5px;color:#111;transform:scale(1.0409,0.8479);-webkit-text-stroke:0.55px #111;">10</div>
<div class="t" style="left:650.43px;top:261.96px;font-family:'Liberation Sans', sans-serif;font-weight:700;font-size:9.5px;color:#111;transform:scale(1.0573,0.9435);-webkit-text-stroke:0.55px #111;">9.5</div>
<div class="t" style="left:712.56px;top:265.95px;font-family:'Liberation Sans', sans-serif;font-weight:700;font-size:9.5px;color:#111;transform:scale(1.1016,0.8935);-webkit-text-stroke:0.55px #111;">9</div>
<div class="t" style="left:770.69px;top:273.75px;font-family:'Liberation Sans', sans-serif;font-weight:700;font-size:8.5px;color:#111;transform:scale(0.9686,0.9368);-webkit-text-stroke:0.55px #111;">8.5</div>
<div class="t" style="left:835.25px;top:278.03px;font-family:'Liberation Sans', sans-serif;font-weight:700;font-size:8.5px;color:#111;transform:scale(1.0288,0.7981);-webkit-text-stroke:0.55px #111;">8.5</div>
<div class="t" style="left:899.16px;top:288.10px;font-family:'Liberation Sans', sans-serif;font-weight:700;font-size:8.5px;color:#111;transform:scale(0.8886,0.7528);-webkit-text-stroke:0.55px #111;">8.5</div>
</body></html>
